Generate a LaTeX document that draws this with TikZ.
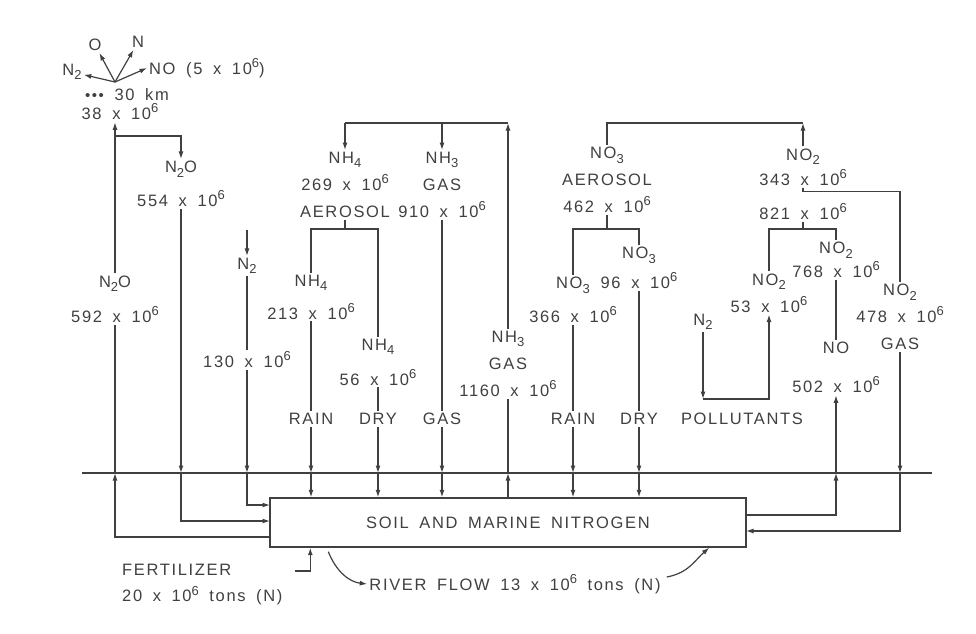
\documentclass[tikz,border=0pt]{standalone}
\usepackage{fontspec}
\setmainfont{Liberation Sans}[LetterSpace=10,WordSpace=1.7]
\usepackage{xcolor}
\usetikzlibrary{arrows.meta}
\definecolor{ink}{HTML}{404040}
\newcommand{\chemsub}[1]{\raisebox{-0.5ex}{\fontsize{13}{13}\selectfont #1}}
\newcommand{\chemsup}[1]{\raisebox{0.8ex}{\fontsize{13}{13}\selectfont #1}}

\begin{document}
\begin{tikzpicture}[
        x=1pt, y=-1pt,
        txt/.style={inner sep=2pt, text=ink, align=center, font=\fontsize{16.5}{27}\selectfont},
        every node/.style={txt},
        soilbox/.style={txt, draw=ink, line width=1.4pt, minimum width=476pt, minimum height=49pt, inner sep=0pt},
        wire/.style={draw=ink, line width=1.2pt},
        flow/.style={wire, -{Latex[length=7.5pt,width=5pt]}}
    ]
        \useasboundingbox (0,0) rectangle (976,633);

        % Ground and box
        \coordinate (gl) at (82,473);
        \coordinate (gr) at (932,473);
        \draw[wire] (gl) -- (gr);
        \node[soilbox] (soil) at (508,522.5) {SOIL AND MARINE NITROGEN};
        \coordinate (sw1) at (270,505);
        \coordinate (sw2) at (270,521);
        \coordinate (sw3) at (270,537);
        \coordinate (se1) at (746,515);
        \coordinate (se2) at (746,531);

        % Stratosphere
        \coordinate (src) at (115,82);
        \node (oA) at (95,45) {O};
        \node (nA) at (138,42) {N};
        \node (ntwoA) at (72,72) {N\chemsub{2}};
        \node[anchor=west] (noA) at (147,68) {NO (5 x 10\chemsup{6})};
        \node (km) at (127,95) {{\fontsize{15}{15}\selectfont\textbullet\textbullet\textbullet}\ 30 km};
        \node (v38) at (120,112) {38 x 10\chemsup{6}};
        \draw[flow] (src) -- (oA);
        \draw[flow] (src) -- (nA);
        \draw[flow] (src) -- (ntwoA);
        \draw[flow] (src) -- (noA.west);

        % N2O and N2
        \node (n2oA) at (115,299) {N\chemsub{2}O\\[8pt]592 x 10\chemsup{6}};
        \node (n2oB) at (181,184) {N\chemsub{2}O\\[7pt]554 x 10\chemsup{6}};
        \coordinate (split) at (115,136);
        \node (ntwoB) at (247,266) {N\chemsub{2}};
        \coordinate (ntwoTop) at (247,230);
        \node (v130) at (247,360) {130 x 10\chemsup{6}};
        \draw[flow] (n2oA.north) -- (n2oA.north |- v38.south);
        \draw[flow] (split) -| (n2oB.north);
        \draw[flow] (sw3) -| (n2oA.south |- gl);
        \draw[wire] (n2oA.south |- gl) -- (n2oA.south);
        \draw[flow] (n2oB.south) -- (n2oB.south |- gl);
        \draw[flow] (n2oB.south |- gl) |- (sw2);
        \draw[flow] (ntwoTop) -- (ntwoB.north);
        \draw[wire] (ntwoB.south) -- (v130.north);
        \draw[flow] (v130.south) -- (v130.south |- gl);
        \draw[flow] (v130.south |- gl) |- (sw1);

        % Ammonia
        \coordinate (nhL) at (345,123);
        \node (nhaer) at (345,185) {NH\chemsub{4}\\269 x 10\chemsup{6}\\AEROSOL};
        \node (nhgas) at (442,185) {NH\chemsub{3}\\GAS\\910 x 10\chemsup{6}};
        \node (nhrise) at (508,364) {NH\chemsub{3}\\GAS\\1160 x 10\chemsup{6}};
        \coordinate (nhfork) at (345,229);
        \node (nhB) at (311,297) {NH\chemsub{4}\\[6pt]213 x 10\chemsup{6}};
        \node (nhC) at (378,362) {NH\chemsub{4}\\[8pt]56 x 10\chemsup{6}};
        \node (rainA) at (311,419) {RAIN};
        \node (dryA) at (378,419) {DRY};
        \node (gasA) at (442,419) {GAS};
        \draw[wire] (nhL) -- (nhL -| nhrise);
        \draw[flow] (nhL) -- (nhaer.north);
        \draw[flow] (nhL -| nhgas) -- (nhgas.north);
        \draw[flow] (nhrise.north) -- (nhrise.north |- nhL);
        \draw[wire] (nhaer.south) -- (nhfork);
        \draw[wire] (nhB.north) |- (nhfork) -| (nhC.north);
        \draw[wire] (nhB.south) -- (rainA.north);
        \draw[wire] (nhC.south) -- (dryA.north);
        \draw[wire] (nhgas.south) -- (gasA.north);
        \draw[flow] (nhrise.south |- soil.north) -- (nhrise.south |- gl);
        \draw[wire] (nhrise.south |- gl) -- (nhrise.south);

        % Nitrate and nitrogen oxides
        \coordinate (noL) at (607,123);
        \node (noaer) at (607,180) {NO\chemsub{3}\\AEROSOL\\462 x 10\chemsup{6}};
        \coordinate (nofork) at (607,229);
        \node (noB) at (573,300) {NO\chemsub{3}\\[7pt]366 x 10\chemsup{6}};
        \node (noC) at (639,268) {NO\chemsub{3}\\[3pt]96 x 10\chemsup{6}};
        \node (rainB) at (573,419) {RAIN};
        \node (dryB) at (639,419) {DRY};
        \node (polA) at (742,419) {POLLUTANTS};
        \node (notwo) at (803,167) {NO\chemsub{2}\\[-2pt]343 x 10\chemsup{6}};
        \node (v821) at (803,212) {821 x 10\chemsup{6}};
        \coordinate (nofork2) at (803,229);
        \node (noD) at (769,293) {NO\chemsub{2}\\53 x 10\chemsup{6}};
        \node (noE) at (836,260) {NO\chemsub{2}\\[-3pt]768 x 10\chemsup{6}};
        \node (noF) at (836,348) {NO};
        \node (v502) at (836,385) {502 x 10\chemsup{6}};
        \node (noG) at (900,317) {NO\chemsub{2}\\478 x 10\chemsup{6}\\GAS};
        \node (ntwoC) at (703,322) {N\chemsub{2}};
        \coordinate (polcorner) at (703,399);
        \draw[wire] (noaer.north) -- (noL) -- (noL -| notwo);
        \draw[flow] (notwo.north) -- (notwo.north |- noL);
        \draw[wire] (noaer.south) -- (nofork);
        \draw[wire] (noB.north) |- (nofork) -| (noC.north);
        \draw[wire] (noB.south) -- (rainB.north);
        \draw[wire] (noC.south) -- (dryB.north);
        \draw[wire] (notwo.south) -- ++(0,4) -| (noG.north);
        \draw[wire] (v821.south) -- (nofork2);
        \draw[wire] (noD.north) |- (nofork2) -| (noE.north);
        \draw[wire] (noE.south) -- (noF.north);
        \draw[flow] (se1) -| (v502.south |- gl);
        \draw[flow] (v502.south |- gl) -- (v502.south);
        \draw[flow] (noG.south) -- (noG.south |- gl);
        \draw[flow] (noG.south |- gl) |- (se2);
        \draw[flow] (ntwoC.south) -- (polcorner);
        \draw[flow] (polcorner) -| (noD.south);

        % Deposition into the box
        \foreach \c in {rainA, dryA, gasA, rainB, dryB} {
            \draw[flow] (\c.south) -- (\c.south |- gl);
            \draw[flow] (\c.south |- gl) -- (\c.south |- soil.north);
        }

        % Fertilizer and river flow
        \node[anchor=west, align=left] (fert) at (120,585) {FERTILIZER\\[-1pt]20 x 10\chemsup{6} tons (N)};
        \coordinate (fertin) at (295,571);
        \draw[flow] (fertin) -| ([xshift=41pt]soil.south west);
        \node (river) at (515,584) {RIVER FLOW 13 x 10\chemsup{6} tons (N)};
        \draw[flow] ([shift={(59,4)}]soil.south west) .. controls +(8,20) and +(-18,-2) .. (river.west);
        \draw[flow] ([shift={(4,-7)}]river.east) .. controls +(22,-4) and +(-14,12) .. ([xshift=440pt]soil.south west);

    \end{tikzpicture}
\end{document}
